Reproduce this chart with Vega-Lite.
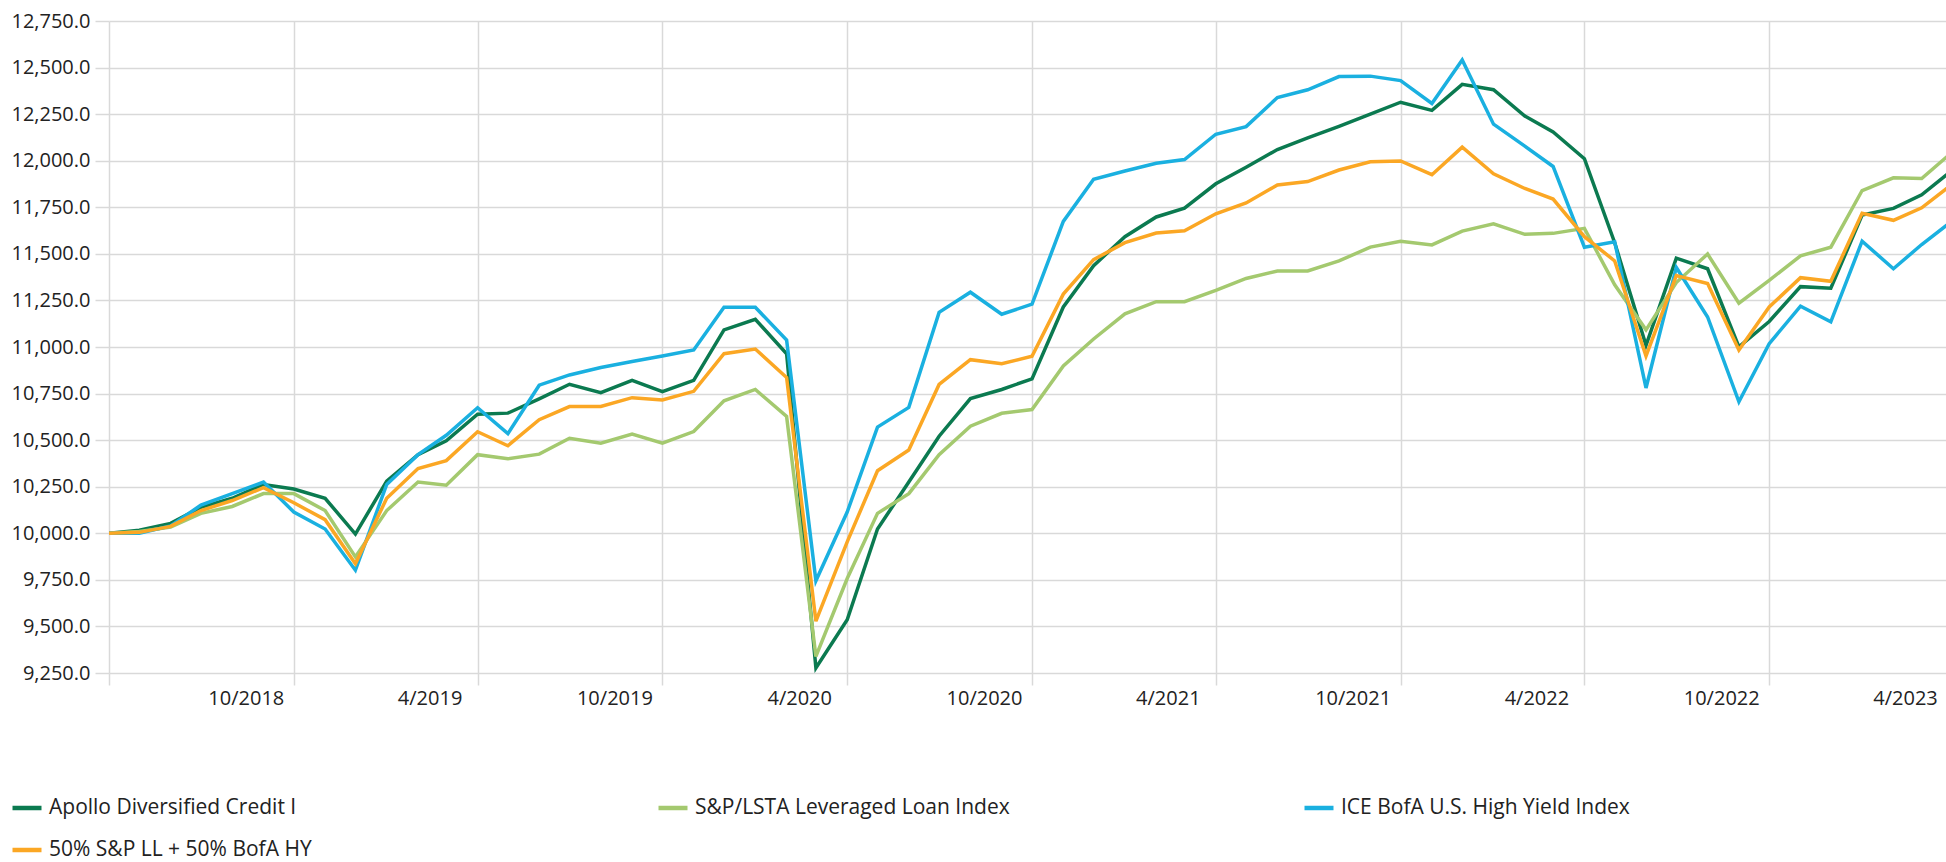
{
  "$schema": "https://vega.github.io/schema/vega-lite/v6.json",
  "width": 1837,
  "height": 652,
  "autosize": {"type": "none"},
  "padding": {"left": 109, "top": 21, "right": 0, "bottom": 189},
  "background": "white",
  "config": {"view": {"stroke": null}, "font": "Open Sans"},
  "data": {
    "format": {"parse": {"month": "date:'%Y-%m'"}},
    "values": [
      {"month":"2018-04","series":"Apollo Diversified Credit I","value":10000},
      {"month":"2018-05","series":"Apollo Diversified Credit I","value":10016},
      {"month":"2018-06","series":"Apollo Diversified Credit I","value":10053},
      {"month":"2018-07","series":"Apollo Diversified Credit I","value":10139},
      {"month":"2018-08","series":"Apollo Diversified Credit I","value":10188},
      {"month":"2018-09","series":"Apollo Diversified Credit I","value":10262},
      {"month":"2018-10","series":"Apollo Diversified Credit I","value":10238},
      {"month":"2018-11","series":"Apollo Diversified Credit I","value":10188},
      {"month":"2018-12","series":"Apollo Diversified Credit I","value":9996},
      {"month":"2019-01","series":"Apollo Diversified Credit I","value":10280},
      {"month":"2019-02","series":"Apollo Diversified Credit I","value":10422},
      {"month":"2019-03","series":"Apollo Diversified Credit I","value":10496},
      {"month":"2019-04","series":"Apollo Diversified Credit I","value":10639},
      {"month":"2019-05","series":"Apollo Diversified Credit I","value":10645},
      {"month":"2019-06","series":"Apollo Diversified Credit I","value":10722},
      {"month":"2019-07","series":"Apollo Diversified Credit I","value":10800},
      {"month":"2019-08","series":"Apollo Diversified Credit I","value":10755},
      {"month":"2019-09","series":"Apollo Diversified Credit I","value":10821},
      {"month":"2019-10","series":"Apollo Diversified Credit I","value":10760},
      {"month":"2019-11","series":"Apollo Diversified Credit I","value":10821},
      {"month":"2019-12","series":"Apollo Diversified Credit I","value":11092},
      {"month":"2020-01","series":"Apollo Diversified Credit I","value":11149},
      {"month":"2020-02","series":"Apollo Diversified Credit I","value":10964},
      {"month":"2020-03","series":"Apollo Diversified Credit I","value":9277},
      {"month":"2020-04","series":"Apollo Diversified Credit I","value":9536},
      {"month":"2020-05","series":"Apollo Diversified Credit I","value":10023},
      {"month":"2020-06","series":"Apollo Diversified Credit I","value":10275},
      {"month":"2020-07","series":"Apollo Diversified Credit I","value":10521},
      {"month":"2020-08","series":"Apollo Diversified Credit I","value":10723},
      {"month":"2020-09","series":"Apollo Diversified Credit I","value":10772},
      {"month":"2020-10","series":"Apollo Diversified Credit I","value":10829},
      {"month":"2020-11","series":"Apollo Diversified Credit I","value":11215},
      {"month":"2020-12","series":"Apollo Diversified Credit I","value":11437},
      {"month":"2021-01","series":"Apollo Diversified Credit I","value":11592},
      {"month":"2021-02","series":"Apollo Diversified Credit I","value":11698},
      {"month":"2021-03","series":"Apollo Diversified Credit I","value":11745},
      {"month":"2021-04","series":"Apollo Diversified Credit I","value":11876},
      {"month":"2021-05","series":"Apollo Diversified Credit I","value":11965},
      {"month":"2021-06","series":"Apollo Diversified Credit I","value":12060},
      {"month":"2021-07","series":"Apollo Diversified Credit I","value":12122},
      {"month":"2021-08","series":"Apollo Diversified Credit I","value":12184},
      {"month":"2021-09","series":"Apollo Diversified Credit I","value":12250},
      {"month":"2021-10","series":"Apollo Diversified Credit I","value":12314},
      {"month":"2021-11","series":"Apollo Diversified Credit I","value":12270},
      {"month":"2021-12","series":"Apollo Diversified Credit I","value":12410},
      {"month":"2022-01","series":"Apollo Diversified Credit I","value":12381},
      {"month":"2022-02","series":"Apollo Diversified Credit I","value":12240},
      {"month":"2022-03","series":"Apollo Diversified Credit I","value":12154},
      {"month":"2022-04","series":"Apollo Diversified Credit I","value":12011},
      {"month":"2022-05","series":"Apollo Diversified Credit I","value":11560},
      {"month":"2022-06","series":"Apollo Diversified Credit I","value":11009},
      {"month":"2022-07","series":"Apollo Diversified Credit I","value":11477},
      {"month":"2022-08","series":"Apollo Diversified Credit I","value":11420},
      {"month":"2022-09","series":"Apollo Diversified Credit I","value":11001},
      {"month":"2022-10","series":"Apollo Diversified Credit I","value":11137},
      {"month":"2022-11","series":"Apollo Diversified Credit I","value":11324},
      {"month":"2022-12","series":"Apollo Diversified Credit I","value":11316},
      {"month":"2023-01","series":"Apollo Diversified Credit I","value":11708},
      {"month":"2023-02","series":"Apollo Diversified Credit I","value":11744},
      {"month":"2023-03","series":"Apollo Diversified Credit I","value":11817},
      {"month":"2023-04","series":"Apollo Diversified Credit I","value":11953},

      {"month":"2018-04","series":"S&P/LSTA Leveraged Loan Index","value":10000},
      {"month":"2018-05","series":"S&P/LSTA Leveraged Loan Index","value":10010},
      {"month":"2018-06","series":"S&P/LSTA Leveraged Loan Index","value":10033},
      {"month":"2018-07","series":"S&P/LSTA Leveraged Loan Index","value":10107},
      {"month":"2018-08","series":"S&P/LSTA Leveraged Loan Index","value":10144},
      {"month":"2018-09","series":"S&P/LSTA Leveraged Loan Index","value":10213},
      {"month":"2018-10","series":"S&P/LSTA Leveraged Loan Index","value":10213},
      {"month":"2018-11","series":"S&P/LSTA Leveraged Loan Index","value":10122},
      {"month":"2018-12","series":"S&P/LSTA Leveraged Loan Index","value":9873},
      {"month":"2019-01","series":"S&P/LSTA Leveraged Loan Index","value":10122},
      {"month":"2019-02","series":"S&P/LSTA Leveraged Loan Index","value":10275},
      {"month":"2019-03","series":"S&P/LSTA Leveraged Loan Index","value":10258},
      {"month":"2019-04","series":"S&P/LSTA Leveraged Loan Index","value":10422},
      {"month":"2019-05","series":"S&P/LSTA Leveraged Loan Index","value":10400},
      {"month":"2019-06","series":"S&P/LSTA Leveraged Loan Index","value":10425},
      {"month":"2019-07","series":"S&P/LSTA Leveraged Loan Index","value":10510},
      {"month":"2019-08","series":"S&P/LSTA Leveraged Loan Index","value":10484},
      {"month":"2019-09","series":"S&P/LSTA Leveraged Loan Index","value":10533},
      {"month":"2019-10","series":"S&P/LSTA Leveraged Loan Index","value":10484},
      {"month":"2019-11","series":"S&P/LSTA Leveraged Loan Index","value":10546},
      {"month":"2019-12","series":"S&P/LSTA Leveraged Loan Index","value":10711},
      {"month":"2020-01","series":"S&P/LSTA Leveraged Loan Index","value":10772},
      {"month":"2020-02","series":"S&P/LSTA Leveraged Loan Index","value":10627},
      {"month":"2020-03","series":"S&P/LSTA Leveraged Loan Index","value":9339},
      {"month":"2020-04","series":"S&P/LSTA Leveraged Loan Index","value":9757},
      {"month":"2020-05","series":"S&P/LSTA Leveraged Loan Index","value":10107},
      {"month":"2020-06","series":"S&P/LSTA Leveraged Loan Index","value":10213},
      {"month":"2020-07","series":"S&P/LSTA Leveraged Loan Index","value":10422},
      {"month":"2020-08","series":"S&P/LSTA Leveraged Loan Index","value":10575},
      {"month":"2020-09","series":"S&P/LSTA Leveraged Loan Index","value":10644},
      {"month":"2020-10","series":"S&P/LSTA Leveraged Loan Index","value":10664},
      {"month":"2020-11","series":"S&P/LSTA Leveraged Loan Index","value":10898},
      {"month":"2020-12","series":"S&P/LSTA Leveraged Loan Index","value":11043},
      {"month":"2021-01","series":"S&P/LSTA Leveraged Loan Index","value":11178},
      {"month":"2021-02","series":"S&P/LSTA Leveraged Loan Index","value":11243},
      {"month":"2021-03","series":"S&P/LSTA Leveraged Loan Index","value":11243},
      {"month":"2021-04","series":"S&P/LSTA Leveraged Loan Index","value":11304},
      {"month":"2021-05","series":"S&P/LSTA Leveraged Loan Index","value":11368},
      {"month":"2021-06","series":"S&P/LSTA Leveraged Loan Index","value":11408},
      {"month":"2021-07","series":"S&P/LSTA Leveraged Loan Index","value":11408},
      {"month":"2021-08","series":"S&P/LSTA Leveraged Loan Index","value":11462},
      {"month":"2021-09","series":"S&P/LSTA Leveraged Loan Index","value":11536},
      {"month":"2021-10","series":"S&P/LSTA Leveraged Loan Index","value":11568},
      {"month":"2021-11","series":"S&P/LSTA Leveraged Loan Index","value":11548},
      {"month":"2021-12","series":"S&P/LSTA Leveraged Loan Index","value":11622},
      {"month":"2022-01","series":"S&P/LSTA Leveraged Loan Index","value":11661},
      {"month":"2022-02","series":"S&P/LSTA Leveraged Loan Index","value":11605},
      {"month":"2022-03","series":"S&P/LSTA Leveraged Loan Index","value":11610},
      {"month":"2022-04","series":"S&P/LSTA Leveraged Loan Index","value":11637},
      {"month":"2022-05","series":"S&P/LSTA Leveraged Loan Index","value":11334},
      {"month":"2022-06","series":"S&P/LSTA Leveraged Loan Index","value":11092},
      {"month":"2022-07","series":"S&P/LSTA Leveraged Loan Index","value":11346},
      {"month":"2022-08","series":"S&P/LSTA Leveraged Loan Index","value":11499},
      {"month":"2022-09","series":"S&P/LSTA Leveraged Loan Index","value":11235},
      {"month":"2022-10","series":"S&P/LSTA Leveraged Loan Index","value":11358},
      {"month":"2022-11","series":"S&P/LSTA Leveraged Loan Index","value":11489},
      {"month":"2022-12","series":"S&P/LSTA Leveraged Loan Index","value":11536},
      {"month":"2023-01","series":"S&P/LSTA Leveraged Loan Index","value":11840},
      {"month":"2023-02","series":"S&P/LSTA Leveraged Loan Index","value":11908},
      {"month":"2023-03","series":"S&P/LSTA Leveraged Loan Index","value":11904},
      {"month":"2023-04","series":"S&P/LSTA Leveraged Loan Index","value":12050},

      {"month":"2018-04","series":"ICE BofA U.S. High Yield Index","value":10000},
      {"month":"2018-05","series":"ICE BofA U.S. High Yield Index","value":10000},
      {"month":"2018-06","series":"ICE BofA U.S. High Yield Index","value":10040},
      {"month":"2018-07","series":"ICE BofA U.S. High Yield Index","value":10151},
      {"month":"2018-08","series":"ICE BofA U.S. High Yield Index","value":10213},
      {"month":"2018-09","series":"ICE BofA U.S. High Yield Index","value":10275},
      {"month":"2018-10","series":"ICE BofA U.S. High Yield Index","value":10114},
      {"month":"2018-11","series":"ICE BofA U.S. High Yield Index","value":10023},
      {"month":"2018-12","series":"ICE BofA U.S. High Yield Index","value":9802},
      {"month":"2019-01","series":"ICE BofA U.S. High Yield Index","value":10262},
      {"month":"2019-02","series":"ICE BofA U.S. High Yield Index","value":10422},
      {"month":"2019-03","series":"ICE BofA U.S. High Yield Index","value":10526},
      {"month":"2019-04","series":"ICE BofA U.S. High Yield Index","value":10674},
      {"month":"2019-05","series":"ICE BofA U.S. High Yield Index","value":10535},
      {"month":"2019-06","series":"ICE BofA U.S. High Yield Index","value":10795},
      {"month":"2019-07","series":"ICE BofA U.S. High Yield Index","value":10850},
      {"month":"2019-08","series":"ICE BofA U.S. High Yield Index","value":10890},
      {"month":"2019-09","series":"ICE BofA U.S. High Yield Index","value":10922},
      {"month":"2019-10","series":"ICE BofA U.S. High Yield Index","value":10952},
      {"month":"2019-11","series":"ICE BofA U.S. High Yield Index","value":10984},
      {"month":"2019-12","series":"ICE BofA U.S. High Yield Index","value":11213},
      {"month":"2020-01","series":"ICE BofA U.S. High Yield Index","value":11213},
      {"month":"2020-02","series":"ICE BofA U.S. High Yield Index","value":11038},
      {"month":"2020-03","series":"ICE BofA U.S. High Yield Index","value":9745},
      {"month":"2020-04","series":"ICE BofA U.S. High Yield Index","value":10114},
      {"month":"2020-05","series":"ICE BofA U.S. High Yield Index","value":10570},
      {"month":"2020-06","series":"ICE BofA U.S. High Yield Index","value":10676},
      {"month":"2020-07","series":"ICE BofA U.S. High Yield Index","value":11186},
      {"month":"2020-08","series":"ICE BofA U.S. High Yield Index","value":11294},
      {"month":"2020-09","series":"ICE BofA U.S. High Yield Index","value":11176},
      {"month":"2020-10","series":"ICE BofA U.S. High Yield Index","value":11230},
      {"month":"2020-11","series":"ICE BofA U.S. High Yield Index","value":11674},
      {"month":"2020-12","series":"ICE BofA U.S. High Yield Index","value":11900},
      {"month":"2021-01","series":"ICE BofA U.S. High Yield Index","value":11945},
      {"month":"2021-02","series":"ICE BofA U.S. High Yield Index","value":11986},
      {"month":"2021-03","series":"ICE BofA U.S. High Yield Index","value":12006},
      {"month":"2021-04","series":"ICE BofA U.S. High Yield Index","value":12142},
      {"month":"2021-05","series":"ICE BofA U.S. High Yield Index","value":12183},
      {"month":"2021-06","series":"ICE BofA U.S. High Yield Index","value":12339},
      {"month":"2021-07","series":"ICE BofA U.S. High Yield Index","value":12381},
      {"month":"2021-08","series":"ICE BofA U.S. High Yield Index","value":12452},
      {"month":"2021-09","series":"ICE BofA U.S. High Yield Index","value":12454},
      {"month":"2021-10","series":"ICE BofA U.S. High Yield Index","value":12430},
      {"month":"2021-11","series":"ICE BofA U.S. High Yield Index","value":12307},
      {"month":"2021-12","series":"ICE BofA U.S. High Yield Index","value":12541},
      {"month":"2022-01","series":"ICE BofA U.S. High Yield Index","value":12196},
      {"month":"2022-02","series":"ICE BofA U.S. High Yield Index","value":12078},
      {"month":"2022-03","series":"ICE BofA U.S. High Yield Index","value":11969},
      {"month":"2022-04","series":"ICE BofA U.S. High Yield Index","value":11536},
      {"month":"2022-05","series":"ICE BofA U.S. High Yield Index","value":11565},
      {"month":"2022-06","series":"ICE BofA U.S. High Yield Index","value":10780},
      {"month":"2022-07","series":"ICE BofA U.S. High Yield Index","value":11427},
      {"month":"2022-08","series":"ICE BofA U.S. High Yield Index","value":11161},
      {"month":"2022-09","series":"ICE BofA U.S. High Yield Index","value":10706},
      {"month":"2022-10","series":"ICE BofA U.S. High Yield Index","value":11018},
      {"month":"2022-11","series":"ICE BofA U.S. High Yield Index","value":11219},
      {"month":"2022-12","series":"ICE BofA U.S. High Yield Index","value":11135},
      {"month":"2023-01","series":"ICE BofA U.S. High Yield Index","value":11568},
      {"month":"2023-02","series":"ICE BofA U.S. High Yield Index","value":11420},
      {"month":"2023-03","series":"ICE BofA U.S. High Yield Index","value":11550},
      {"month":"2023-04","series":"ICE BofA U.S. High Yield Index","value":11680},

      {"month":"2018-04","series":"50% S&P LL + 50% BofA HY","value":10000},
      {"month":"2018-05","series":"50% S&P LL + 50% BofA HY","value":10005},
      {"month":"2018-06","series":"50% S&P LL + 50% BofA HY","value":10037},
      {"month":"2018-07","series":"50% S&P LL + 50% BofA HY","value":10122},
      {"month":"2018-08","series":"50% S&P LL + 50% BofA HY","value":10176},
      {"month":"2018-09","series":"50% S&P LL + 50% BofA HY","value":10245},
      {"month":"2018-10","series":"50% S&P LL + 50% BofA HY","value":10164},
      {"month":"2018-11","series":"50% S&P LL + 50% BofA HY","value":10073},
      {"month":"2018-12","series":"50% S&P LL + 50% BofA HY","value":9836},
      {"month":"2019-01","series":"50% S&P LL + 50% BofA HY","value":10188},
      {"month":"2019-02","series":"50% S&P LL + 50% BofA HY","value":10348},
      {"month":"2019-03","series":"50% S&P LL + 50% BofA HY","value":10390},
      {"month":"2019-04","series":"50% S&P LL + 50% BofA HY","value":10545},
      {"month":"2019-05","series":"50% S&P LL + 50% BofA HY","value":10470},
      {"month":"2019-06","series":"50% S&P LL + 50% BofA HY","value":10610},
      {"month":"2019-07","series":"50% S&P LL + 50% BofA HY","value":10680},
      {"month":"2019-08","series":"50% S&P LL + 50% BofA HY","value":10681},
      {"month":"2019-09","series":"50% S&P LL + 50% BofA HY","value":10728},
      {"month":"2019-10","series":"50% S&P LL + 50% BofA HY","value":10716},
      {"month":"2019-11","series":"50% S&P LL + 50% BofA HY","value":10762},
      {"month":"2019-12","series":"50% S&P LL + 50% BofA HY","value":10964},
      {"month":"2020-01","series":"50% S&P LL + 50% BofA HY","value":10989},
      {"month":"2020-02","series":"50% S&P LL + 50% BofA HY","value":10836},
      {"month":"2020-03","series":"50% S&P LL + 50% BofA HY","value":9528},
      {"month":"2020-04","series":"50% S&P LL + 50% BofA HY","value":9954},
      {"month":"2020-05","series":"50% S&P LL + 50% BofA HY","value":10336},
      {"month":"2020-06","series":"50% S&P LL + 50% BofA HY","value":10447},
      {"month":"2020-07","series":"50% S&P LL + 50% BofA HY","value":10799},
      {"month":"2020-08","series":"50% S&P LL + 50% BofA HY","value":10932},
      {"month":"2020-09","series":"50% S&P LL + 50% BofA HY","value":10910},
      {"month":"2020-10","series":"50% S&P LL + 50% BofA HY","value":10950},
      {"month":"2020-11","series":"50% S&P LL + 50% BofA HY","value":11284},
      {"month":"2020-12","series":"50% S&P LL + 50% BofA HY","value":11469},
      {"month":"2021-01","series":"50% S&P LL + 50% BofA HY","value":11560},
      {"month":"2021-02","series":"50% S&P LL + 50% BofA HY","value":11612},
      {"month":"2021-03","series":"50% S&P LL + 50% BofA HY","value":11624},
      {"month":"2021-04","series":"50% S&P LL + 50% BofA HY","value":11715},
      {"month":"2021-05","series":"50% S&P LL + 50% BofA HY","value":11773},
      {"month":"2021-06","series":"50% S&P LL + 50% BofA HY","value":11870},
      {"month":"2021-07","series":"50% S&P LL + 50% BofA HY","value":11888},
      {"month":"2021-08","series":"50% S&P LL + 50% BofA HY","value":11950},
      {"month":"2021-09","series":"50% S&P LL + 50% BofA HY","value":11994},
      {"month":"2021-10","series":"50% S&P LL + 50% BofA HY","value":11999},
      {"month":"2021-11","series":"50% S&P LL + 50% BofA HY","value":11925},
      {"month":"2021-12","series":"50% S&P LL + 50% BofA HY","value":12073},
      {"month":"2022-01","series":"50% S&P LL + 50% BofA HY","value":11930},
      {"month":"2022-02","series":"50% S&P LL + 50% BofA HY","value":11851},
      {"month":"2022-03","series":"50% S&P LL + 50% BofA HY","value":11794},
      {"month":"2022-04","series":"50% S&P LL + 50% BofA HY","value":11592},
      {"month":"2022-05","series":"50% S&P LL + 50% BofA HY","value":11462},
      {"month":"2022-06","series":"50% S&P LL + 50% BofA HY","value":10952},
      {"month":"2022-07","series":"50% S&P LL + 50% BofA HY","value":11383},
      {"month":"2022-08","series":"50% S&P LL + 50% BofA HY","value":11341},
      {"month":"2022-09","series":"50% S&P LL + 50% BofA HY","value":10984},
      {"month":"2022-10","series":"50% S&P LL + 50% BofA HY","value":11215},
      {"month":"2022-11","series":"50% S&P LL + 50% BofA HY","value":11372},
      {"month":"2022-12","series":"50% S&P LL + 50% BofA HY","value":11353},
      {"month":"2023-01","series":"50% S&P LL + 50% BofA HY","value":11718},
      {"month":"2023-02","series":"50% S&P LL + 50% BofA HY","value":11680},
      {"month":"2023-03","series":"50% S&P LL + 50% BofA HY","value":11747},
      {"month":"2023-04","series":"50% S&P LL + 50% BofA HY","value":11877}
    ]
  },
  "mark": {"type": "line", "strokeWidth": 3.5, "clip": true},
  "encoding": {
    "x": {
      "field": "month",
      "type": "temporal",
      "scale": {
        "domain": [{"year": 2018, "month": 4, "date": 1}, {"year": 2023, "month": 4, "date": 1}],
        "range": [0, 1844]
      },
      "axis": {
        "title": null,
        "domain": false,
        "grid": true,
        "gridColor": "#d9d9d9",
        "gridWidth": 1.5,
        "ticks": true,
        "tickColor": "#d9d9d9",
        "tickWidth": 1.5,
        "tickSize": 12,
        "values": [
          {"year": 2018, "month": 4, "date": 1},
          {"year": 2018, "month": 10, "date": 1},
          {"year": 2019, "month": 4, "date": 1},
          {"year": 2019, "month": 10, "date": 1},
          {"year": 2020, "month": 4, "date": 1},
          {"year": 2020, "month": 10, "date": 1},
          {"year": 2021, "month": 4, "date": 1},
          {"year": 2021, "month": 10, "date": 1},
          {"year": 2022, "month": 4, "date": 1},
          {"year": 2022, "month": 10, "date": 1},
          {"year": 2023, "month": 4, "date": 1}
        ],
        "labelExpr": "year(datum.value) == 2018 && month(datum.value) == 3 ? '' : timeFormat(datum.value, '%-m/%Y')",
        "labelAlign": "center",
        "labelOffset": -48,
        "labelFlush": false,
        "labelOverlap": false,
        "labelFontSize": 20,
        "labelColor": "#222222",
        "labelPadding": 3
      }
    },
    "y": {
      "field": "value",
      "type": "quantitative",
      "scale": {"domain": [9250, 12750], "nice": false, "zero": false},
      "axis": {
        "title": null,
        "domain": false,
        "values": [9250, 9500, 9750, 10000, 10250, 10500, 10750, 11000, 11250, 11500, 11750, 12000, 12250, 12500, 12750],
        "format": ",.1f",
        "grid": true,
        "gridColor": "#d9d9d9",
        "gridWidth": 1.5,
        "tickColor": "#d9d9d9",
        "tickWidth": 1.5,
        "tickSize": 14,
        "labelPadding": 5,
        "labelFontSize": 20,
        "labelColor": "#222222"
      }
    },
    "color": {
      "field": "series",
      "type": "nominal",
      "scale": {
        "domain": ["Apollo Diversified Credit I", "S&P/LSTA Leveraged Loan Index", "ICE BofA U.S. High Yield Index", "50% S&P LL + 50% BofA HY"],
        "range": ["#0b7a50", "#a4c96f", "#1ab0e0", "#fba724"]
      },
      "legend": {
        "title": null,
        "orient": "none",
        "legendX": -99,
        "legendY": 770,
        "direction": "horizontal",
        "columns": 3,
        "gridAlign": "all",
        "columnPadding": 285,
        "rowPadding": 15,
        "padding": 0,
        "symbolType": "stroke",
        "symbolSize": 841,
        "symbolStrokeWidth": 4.5,
        "symbolOffset": 0,
        "labelFontSize": 21,
        "labelColor": "#222222",
        "labelLimit": 1000,
        "labelOffset": 5
      }
    }
  }
}
